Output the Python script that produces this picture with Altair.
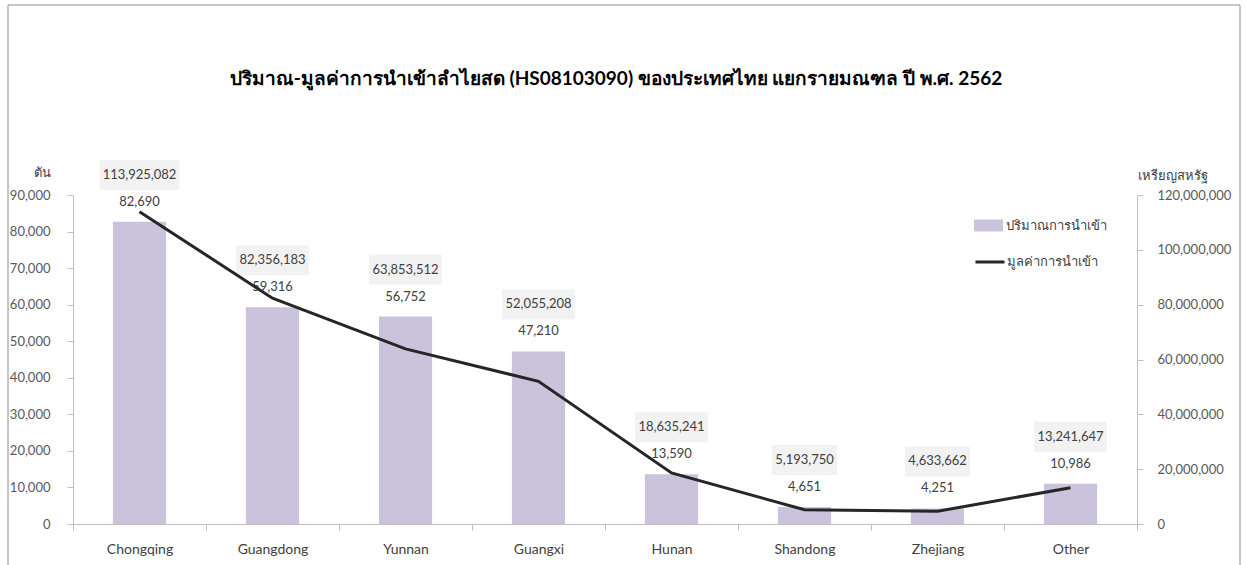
import altair as alt
import pandas as pd

provinces = ["Chongqing", "Guangdong", "Yunnan", "Guangxi", "Hunan", "Shandong", "Zhejiang", "Other"]
quantity_tons = [82690, 59316, 56752, 47210, 13590, 4651, 4251, 10986]
value_usd = [113925082, 82356183, 63853512, 52055208, 18635241, 5193750, 4633662, 13241647]

left_ticks = [0, 10000, 20000, 30000, 40000, 50000, 60000, 70000, 80000, 90000]
right_ticks = [0, 20000000, 40000000, 60000000, 80000000, 100000000, 120000000]

title_text = "ปริมาณ-มูลค่าการนำเข้าลำไยสด (HS08103090) ของประเทศไทย แยกรายมณฑล ปี พ.ศ. 2562"
qty_name = "ปริมาณการนำเข้า"
val_name = "มูลค่าการนำเข้า"

df = pd.DataFrame({
    "province": provinces,
    "qty": quantity_tons,
    "val": value_usd,
})
df["qty_label"] = df["qty"].map(lambda v: f"{v:,}")
df["val_label"] = df["val"].map(lambda v: f"{v:,}")


def box_path(label):
    digits = sum(ch.isdigit() for ch in label)
    commas = label.count(",")
    w = 7.2 * digits + 3.5 * commas + 8
    r = 50.0  # sqrt(10000) / 2
    a = (w / 2) / r
    b = 15.0 / r
    return f"M{-a:.3f},{-b:.3f}L{a:.3f},{-b:.3f}L{a:.3f},{b:.3f}L{-a:.3f},{b:.3f}Z"


df["box_shape"] = df["val_label"].map(box_path)
df["s_qty"] = qty_name
df["s_val"] = val_name

FONT = "Lato, Noto Sans, sans-serif"
GRAY = "#bfbfbf"

x_axis = alt.Axis(title=None, labelAngle=0, tickBand="extent", tickSize=6,
                  labelPadding=12, labelFontSize=14, labelColor="#404040",
                  domainColor=GRAY, tickColor=GRAY)
x_enc = alt.X("province:N", sort=provinces,
              scale=alt.Scale(paddingInner=0, paddingOuter=0), axis=x_axis)

left_axis = alt.Axis(orient="left", values=left_ticks, format=",d", grid=False,
                     tickSize=6, labelPadding=17, labelFontSize=13, labelColor="#595959",
                     domainColor=GRAY, tickColor=GRAY,
                     title="ตัน", titleAngle=0, titleX=-31, titleY=-23,
                     titleAlign="center", titleBaseline="middle",
                     titleFontWeight="normal", titleFontSize=13, titleColor="#404040")
y_left_scale = alt.Scale(domain=[0, 90000], nice=False)


def y_left():
    return alt.Y("qty:Q", scale=y_left_scale, axis=left_axis)


base = alt.Chart(df)

bars = base.mark_bar(width=alt.RelativeBandSize(0.4)).encode(
    x=x_enc,
    y=y_left(),
    fill=alt.Fill("s_qty:N", scale=alt.Scale(domain=[qty_name], range=["#CBC2DC"]),
                  legend=alt.Legend(title=None, orient="none", legendX=901, legendY=16,
                                    padding=0, labelFontSize=13, labelColor="#404040",
                                    labelOffset=3,
                                    symbolType="M-1,-0.414L1,-0.414L1,0.414L-1,0.414Z",
                                    symbolSize=841, symbolStrokeWidth=0)),
)

qty_text = base.mark_text(dy=-20, fontSize=13, color="#404040", font=FONT).encode(
    x=x_enc, y=y_left(), text="qty_label:N",
)

boxes = base.mark_point(filled=True, opacity=1, color="#F2F2F2", yOffset=-47, size=10000).encode(
    x=x_enc, y=y_left(),
    shape=alt.Shape("box_shape:N", scale=None, legend=None),
)

val_text = base.mark_text(dy=-47, fontSize=13, color="#404040", font=FONT).encode(
    x=x_enc, y=y_left(), text="val_label:N",
)

border = alt.Chart(alt.Data(values=[{"a": 1}])).mark_rect(
    fill=None, stroke="#8c8c8c", strokeWidth=1
).encode(
    x=alt.value(-65), x2=alt.value(1167), y=alt.value(-190), y2=alt.value(420)
)

left_layer = alt.layer(border, bars, boxes, val_text, qty_text)

line = base.mark_line(color="#262626", strokeWidth=3).encode(
    x=x_enc,
    y=alt.Y("val:Q", scale=alt.Scale(domain=[0, 120000000], nice=False),
            axis=alt.Axis(orient="right", values=right_ticks, format=",d", grid=False,
                          tickSize=6, labelPadding=14, labelFontSize=13, labelColor="#595959",
                          domainColor=GRAY, tickColor=GRAY,
                          title="เหรียญสหรัฐ", titleAngle=0, titleX=35, titleY=-20,
                          titleAlign="center", titleBaseline="middle",
                          titleFontWeight="normal", titleFontSize=13, titleColor="#404040")),
    stroke=alt.Stroke("s_val:N", scale=alt.Scale(domain=[val_name], range=["#262626"]),
                      legend=alt.Legend(title=None, orient="none", legendX=901, legendY=51,
                                        padding=0, labelFontSize=13, labelColor="#404040",
                                        labelOffset=1, symbolType="stroke",
                                        symbolSize=841, symbolStrokeWidth=3)),
)

chart = alt.layer(left_layer, line).resolve_scale(y="independent").properties(
    width=1064, height=329,
    padding={"left": 73, "top": 195, "right": 110, "bottom": 41},
    autosize=alt.AutoSizeParams(type="none"),
    title=alt.TitleParams(title_text, fontSize=19, fontWeight="bold", color="#000000",
                          anchor="middle", dx=11, offset=-84, font=FONT),
).configure(font=FONT).configure_view(stroke=None).configure_axis(
    labelFont=FONT, titleFont=FONT
).configure_legend(labelFont=FONT)

chart.save("out.html", embed_options={"renderer": "svg", "actions": False})
